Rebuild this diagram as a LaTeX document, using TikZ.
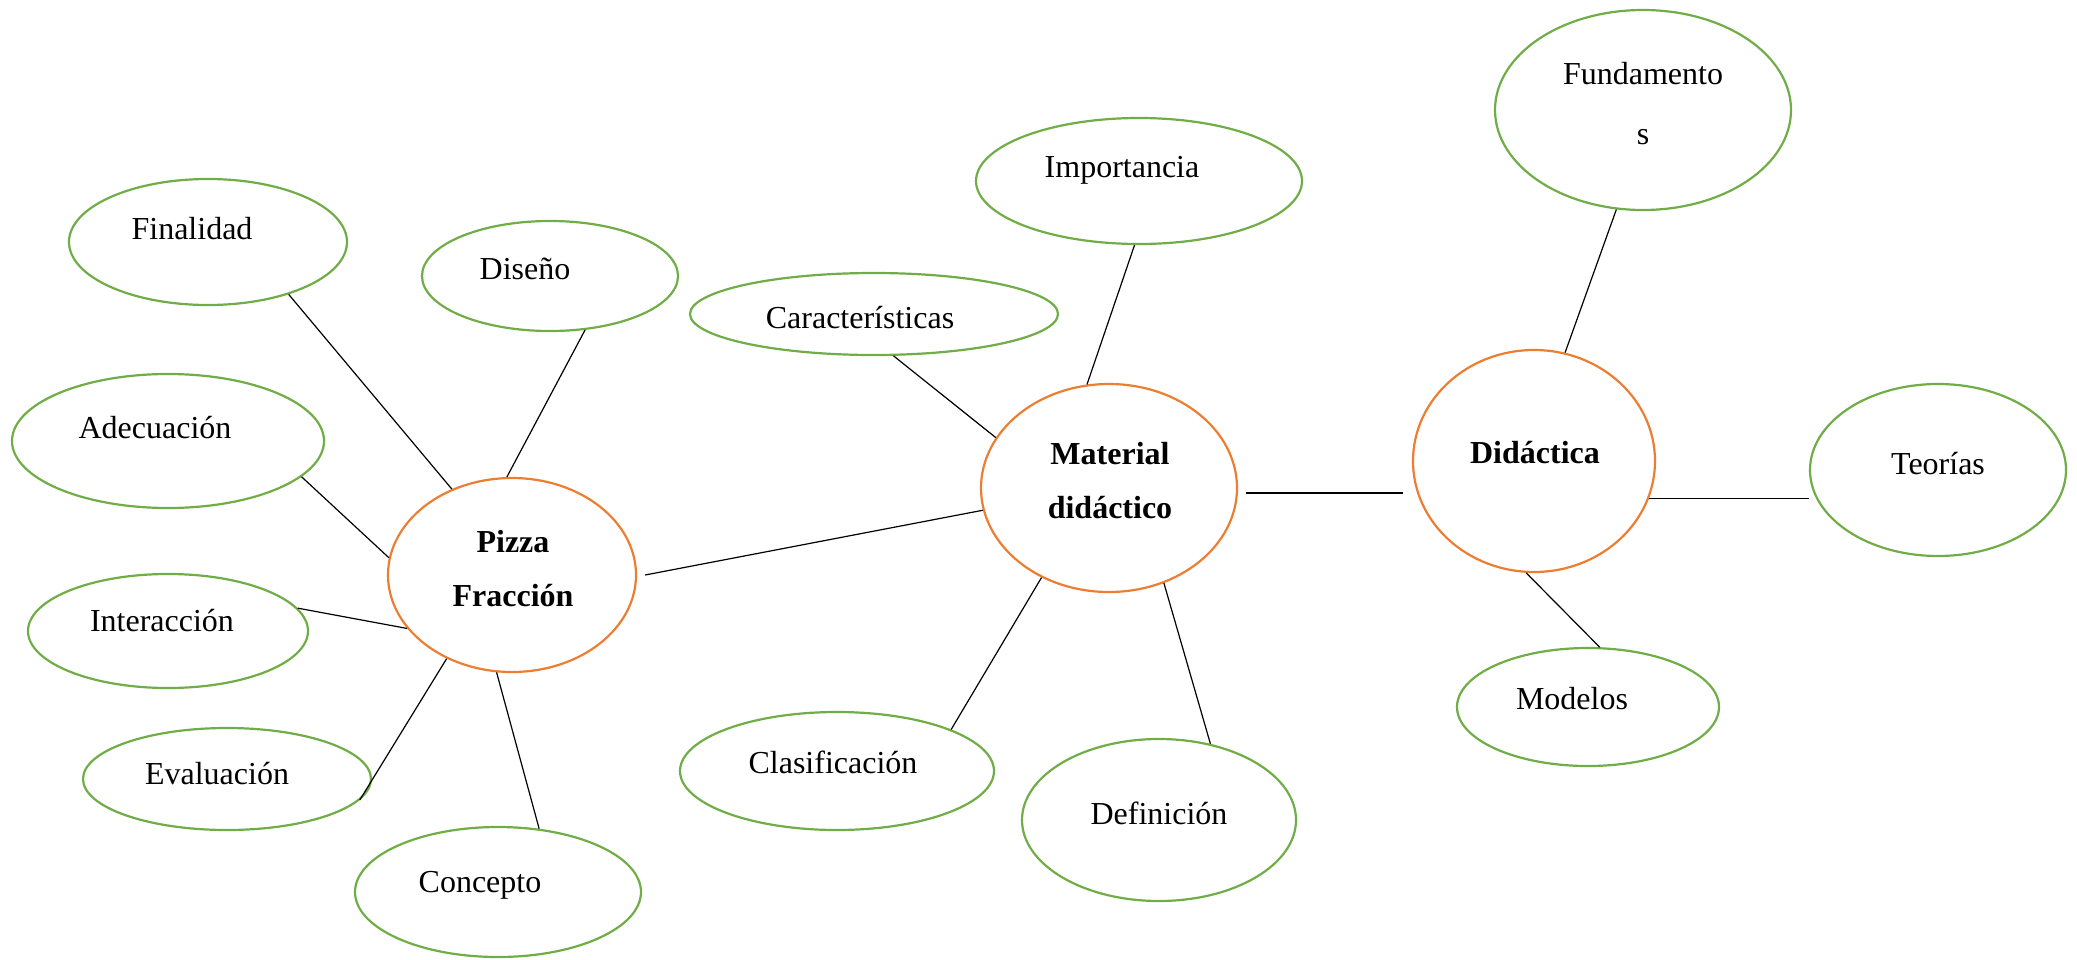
\documentclass[tikz,border=0pt]{standalone}
\usepackage{fontspec}
\setmainfont{Liberation Serif}
\usepackage{tikz}
\usetikzlibrary{positioning,shapes.geometric,calc}
\definecolor{hubbd}{HTML}{ED7D31}
\definecolor{leafbd}{HTML}{70AD47}

\begin{document}
\begin{tikzpicture}[x=0.5pt,y=-0.5pt,
  leaf/.style={draw=leafbd,line width=1.1pt,ellipse,inner sep=0pt},
  hub/.style={draw=hubbd,line width=1.1pt,ellipse,inner sep=0pt},
  txt/.style={font=\fontsize{16}{27}\selectfont,align=center,inner sep=0pt},
  hubtxt/.style={txt,font=\fontsize{16}{27}\selectfont\bfseries},
  link/.style={draw=black,line width=0.6pt}]
\useasboundingbox (0,0) rectangle (2077,959);

% centros
\node[hub,minimum width=124pt,minimum height=97pt] (pizza) at (512,575) {};
\node[hub,minimum width=128pt,minimum height=104pt] (material) at (1109,488) {};
\node[hub,minimum width=121pt,minimum height=111pt] (didactica) at (1534,461) {};

% ramas de Pizza Fraccion
\node[leaf,minimum width=139pt,minimum height=63pt] (finalidad) at (208,242) {};
\node[leaf,minimum width=128pt,minimum height=55pt] (diseno) at (550,276) {};
\node[leaf,minimum width=156pt,minimum height=67pt] (adecuacion) at (168,441) {};
\node[leaf,minimum width=140pt,minimum height=57pt] (interaccion) at (168,631) {};
\node[leaf,minimum width=144pt,minimum height=51pt] (evaluacion) at (227,779) {};
\node[leaf,minimum width=143pt,minimum height=65pt] (concepto) at (498,892) {};

% ramas de Material didactico
\node[leaf,minimum width=184pt,minimum height=41pt] (caracteristicas) at (874,314) {};
\node[leaf,minimum width=163pt,minimum height=63pt] (importancia) at (1139,181) {};
\node[leaf,minimum width=157pt,minimum height=59pt] (clasificacion) at (837,771) {};
\node[leaf,minimum width=137pt,minimum height=81pt] (definicion) at (1159,820) {};

% ramas de Didactica
\node[leaf,minimum width=148pt,minimum height=100pt] (fundamentos) at (1643,110) {};
\node[leaf,minimum width=128pt,minimum height=86pt] (teorias) at (1938,470) {};
\node[leaf,minimum width=131pt,minimum height=59pt] (modelos) at (1588,707) {};

% textos
\node[hubtxt] (pizza-txt) at (513,569) {Pizza\\Fracción};
\node[hubtxt] (material-txt) at (1110,481) {Material\\didáctico};
\node[hubtxt] (didactica-txt) at (1535,453) {Didáctica};
\node[txt] (finalidad-txt) at (192,229) {Finalidad};
\node[txt] (diseno-txt) at (525,269) {Diseño};
\node[txt] (adecuacion-txt) at (155,428) {Adecuación};
\node[txt] (interaccion-txt) at (162,621) {Interacción};
\node[txt] (evaluacion-txt) at (217,774) {Evaluación};
\node[txt] (concepto-txt) at (480,885) {Concepto};
\node[txt] (caracteristicas-txt) at (860,318) {Características};
\node[txt] (importancia-txt) at (1122,170) {Importancia};
\node[txt] (clasificacion-txt) at (833,762) {Clasificación};
\node[txt] (definicion-txt) at (1159,813) {Definición};
\node[txt,font=\fontsize{16}{30}\selectfont] (fundamentos-txt) at (1643,104) {Fundamento\\s};
\node[txt] (teorias-txt) at (1938,464) {Teorías};
\node[txt] (modelos-txt) at (1572,699) {Modelos};

% conectores
\draw[link] (finalidad.-33) -- (pizza.125);
\draw[link] (diseno.-57) -- (pizza.93);
\draw[link] (adecuacion.-15) -- (pizza.172);
\draw[link] (interaccion.10) -- (pizza.207);
\draw[link] (evaluacion.-9) -- (pizza.232);
\draw[link] (concepto.57) -- (pizza.261);
\draw[link] ([xshift=4pt]pizza.east) -- (material.190);
\draw[link] (caracteristicas.-65) -- (material.156);
\draw[link] (importancia.-94) -- (material.102);
\draw[link] (clasificacion.20) -- (material.233);
\draw[link] (definicion.56) -- (material.-60);
\draw[link] ([xshift=4pt,yshift=-2.5pt]material.east) -- ([xshift=-4.5pt,yshift=-2.5pt]material.east -| didactica.west);
\draw[link] (fundamentos.255) -- (didactica.74);
\draw[link] (didactica.-18) -- (didactica.-18 -| teorias.west);
\draw[link] (modelos.79) -- (didactica.266);
\end{tikzpicture}
\end{document}
